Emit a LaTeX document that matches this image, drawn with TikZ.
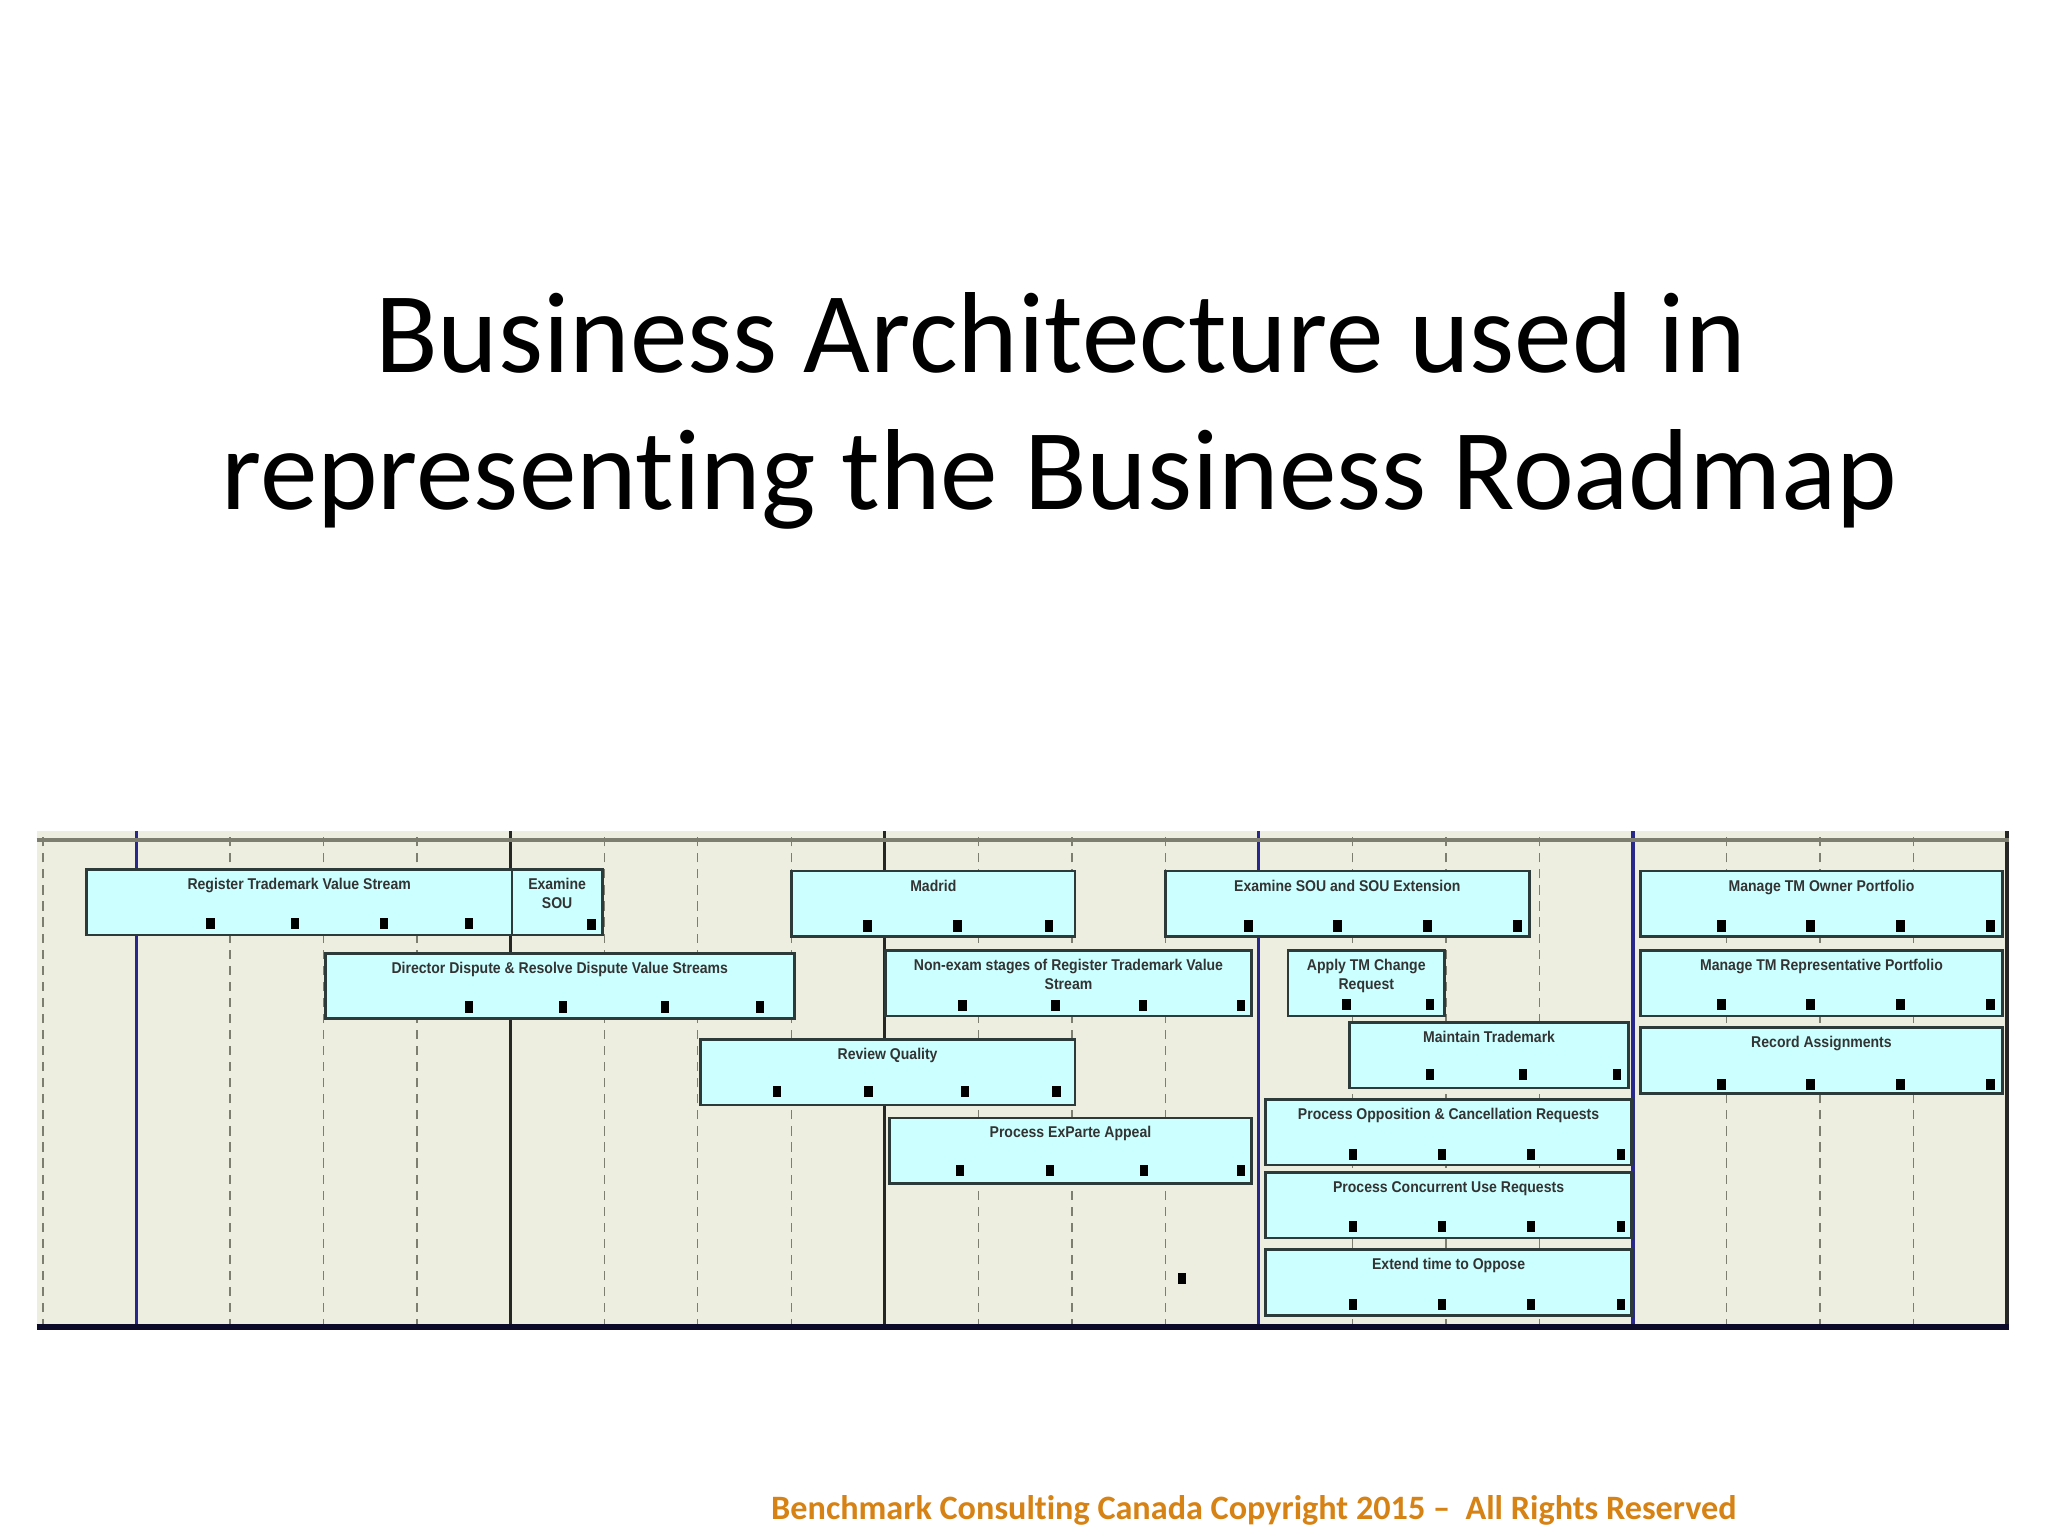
\documentclass[tikz,border=0pt]{standalone}
\usepackage{fontspec}
\setmainfont[Ligatures=NoCommon]{Carlito}
\newfontfamily\boxfont[FakeStretch=0.9]{Liberation Sans}
\usetikzlibrary{positioning}
\definecolor{mbg}{RGB}{238,238,224}
\definecolor{mcyan}{RGB}{204,255,255}
\definecolor{medge}{RGB}{45,58,58}
\definecolor{mnavy}{RGB}{40,40,140}
\definecolor{mgrid}{RGB}{125,125,112}
\definecolor{morange}{RGB}{214,130,20}
\tikzset{stream/.style = {draw=medge, fill=mcyan, line width=0.6pt, anchor=south west, minimum height=0.5cm, inner sep=0}}
\tikzset{lbl/.style = {font=\boxfont\bfseries\fontsize{3.4}{4}\selectfont, text=black!80, align=center, inner sep=0}}
\tikzset{ms/.style = {fill=black, inner sep=0, minimum width=0.065cm, minimum height=0.085cm}}
\tikzset{minor/.style = {mgrid, dashed, dash pattern=on 2pt off 1.5pt, line width=0.3pt}}
\tikzset{major/.style = {line width=0.7pt}}

\begin{document}
\begin{tikzpicture}
      \useasboundingbox (0, 0) rectangle (15.68, 11.76);

      \node [anchor=base, font=\fontsize{25.1}{30}\selectfont] (title1) at (8.12, 8.91) {Business Architecture used in};
      \node [anchor=base, font=\fontsize{25.1}{30}\selectfont] (title2) at (8.11, 7.86) {representing the Business Roadmap};

      % chart grid
      \fill [mbg] (0.28, 1.59) rectangle (15.38, 5.40);
      \foreach \k in {0,...,20}
        \draw [minor] ({0.33 + 0.716*\k}, 1.59) -- ({0.33 + 0.716*\k}, 5.40);
      \foreach \k/\c in {1/mnavy, 5/black!85, 9/black!85, 13/mnavy, 17/mnavy, 21/black!85}
        \draw [major, \c] ({0.33 + 0.716*\k}, 1.59) -- ({0.33 + 0.716*\k}, 5.40);
      \draw [line width=1pt, mgrid] (0.28, 5.33) -- (15.38, 5.33);
      \draw [line width=1.3pt, black!70!mnavy] (0.28, 1.60) -- (15.38, 1.60);

      % first block
      \node [stream, minimum width=3.26cm] (rtvs) at (0.65, 4.59) {};
      \node [lbl, below=0.07cm of rtvs.north] (rtvs-t) {Register Trademark Value Stream};
      \foreach \x [count=\i] in {1.61, 2.26, 2.94, 3.59}
        \node [ms] (rtvs-m\i) at (\x, 4.69) {};

      \node [stream, minimum width=0.69cm] (esou) at (3.91, 4.59) {};
      \node [lbl, below=0.07cm of esou.north] (esou-t) {Examine\\SOU};
      \node [ms] (esou-m1) at (4.53, 4.68) {};

      \node [stream, minimum width=3.59cm] (ddrd) at (2.48, 3.95) {};
      \node [lbl, below=0.07cm of ddrd.north] (ddrd-t) {Director Dispute \& Resolve Dispute Value Streams};
      \foreach \x [count=\i] in {3.59, 4.31, 5.09, 5.82}
        \node [ms] (ddrd-m\i) at (\x, 4.05) {};

      % second block
      \node [stream, minimum width=2.17cm] (madrid) at (6.05, 4.58) {};
      \node [lbl, below=0.07cm of madrid.north] (madrid-t) {Madrid};
      \foreach \x [count=\i] in {6.64, 7.33, 8.03}
        \node [ms] (madrid-m\i) at (\x, 4.67) {};

      \node [stream, minimum width=2.80cm] (nexam) at (6.77, 3.97) {};
      \node [lbl, below=0.07cm of nexam.north] (nexam-t) {Non-exam stages of Register Trademark Value\\Stream};
      \foreach \x [count=\i] in {7.37, 8.08, 8.75, 9.50}
        \node [ms] (nexam-m\i) at (\x, 4.06) {};

      \node [stream, minimum width=2.87cm] (rq) at (5.35, 3.29) {};
      \node [lbl, below=0.07cm of rq.north] (rq-t) {Review Quality};
      \foreach \x [count=\i] in {5.95, 6.65, 7.39, 8.09}
        \node [ms] (rq-m\i) at (\x, 3.40) {};

      \node [stream, minimum width=2.77cm] (epa) at (6.80, 2.69) {};
      \node [lbl, below=0.07cm of epa.north] (epa-t) {Process ExParte Appeal};
      \foreach \x [count=\i] in {7.35, 8.04, 8.76, 9.50}
        \node [ms] (epa-m\i) at (\x, 2.80) {};

      \node [ms] (lone) at (9.05, 1.97) {};

      % third block
      \node [stream, minimum width=2.79cm] (esouext) at (8.91, 4.58) {};
      \node [lbl, below=0.07cm of esouext.north] (esouext-t) {Examine SOU and SOU Extension};
      \foreach \x [count=\i] in {9.56, 10.24, 10.93, 11.62}
        \node [ms] (esouext-m\i) at (\x, 4.67) {};

      \node [stream, minimum width=1.20cm] (atcr) at (9.85, 3.97) {};
      \node [lbl, below=0.07cm of atcr.north] (atcr-t) {Apply TM Change\\Request};
      \foreach \x [count=\i] in {10.31, 10.95}
        \node [ms] (atcr-m\i) at (\x, 4.07) {};

      \node [stream, minimum width=2.14cm] (mtm) at (10.32, 3.42) {};
      \node [lbl, below=0.07cm of mtm.north] (mtm-t) {Maintain Trademark};
      \foreach \x [count=\i] in {10.95, 11.66, 12.38}
        \node [ms] (mtm-m\i) at (\x, 3.53) {};

      \node [stream, minimum width=2.80cm] (pocr) at (9.68, 2.83) {};
      \node [lbl, below=0.07cm of pocr.north] (pocr-t) {Process Opposition \& Cancellation Requests};
      \foreach \x [count=\i] in {10.36, 11.04, 11.72, 12.41}
        \node [ms] (pocr-m\i) at (\x, 2.92) {};

      \node [stream, minimum width=2.80cm] (pcur) at (9.68, 2.27) {};
      \node [lbl, below=0.07cm of pcur.north] (pcur-t) {Process Concurrent Use Requests};
      \foreach \x [count=\i] in {10.36, 11.04, 11.72, 12.41}
        \node [ms] (pcur-m\i) at (\x, 2.37) {};

      \node [stream, minimum width=2.80cm] (eto) at (9.68, 1.68) {};
      \node [lbl, below=0.07cm of eto.north] (eto-t) {Extend time to Oppose};
      \foreach \x [count=\i] in {10.36, 11.04, 11.72, 12.41}
        \node [ms] (eto-m\i) at (\x, 1.77) {};

      % fourth block
      \node [stream, minimum width=2.77cm] (mtop) at (12.55, 4.58) {};
      \node [lbl, below=0.07cm of mtop.north] (mtop-t) {Manage TM Owner Portfolio};
      \foreach \x [count=\i] in {13.18, 13.86, 14.55, 15.24}
        \node [ms] (mtop-m\i) at (\x, 4.67) {};

      \node [stream, minimum width=2.77cm] (mtrp) at (12.55, 3.97) {};
      \node [lbl, below=0.07cm of mtrp.north] (mtrp-t) {Manage TM Representative Portfolio};
      \foreach \x [count=\i] in {13.18, 13.86, 14.55, 15.24}
        \node [ms] (mtrp-m\i) at (\x, 4.07) {};

      \node [stream, minimum width=2.77cm] (ra) at (12.55, 3.38) {};
      \node [lbl, below=0.07cm of ra.north] (ra-t) {Record Assignments};
      \foreach \x [count=\i] in {13.18, 13.86, 14.55, 15.24}
        \node [ms] (ra-m\i) at (\x, 3.46) {};

      \node [anchor=base, font=\bfseries\fontsize{7.45}{9}\selectfont, morange] (footer) at (9.60, 0.13) {Benchmark Consulting Canada Copyright 2015 --\ \ All Rights Reserved};
\end{tikzpicture}
\end{document}
